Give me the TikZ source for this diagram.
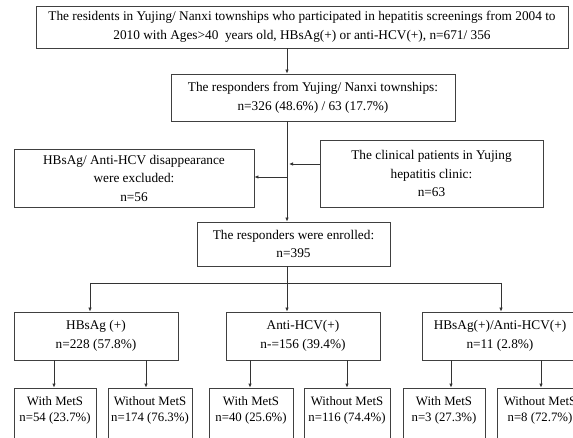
\documentclass[tikz,border=0pt]{standalone}
\usepackage{fontspec}
\setmainfont{Liberation Serif}
\usetikzlibrary{arrows.meta}
\begin{document}
\begin{tikzpicture}[x=1pt,y=-1pt,
  box/.style={draw=black!75, line width=0.8pt, rectangle, align=center, inner sep=0pt,
     font=\fontsize{13.3}{18.5}\selectfont},
  smallbox/.style={box, font=\fontsize{12.8}{16}\selectfont},
  arr/.style={draw=black!80, line width=0.8pt, -{Latex[length=4pt,width=3.5pt]}},
  ln/.style={draw=black!80, line width=0.8pt}]
\useasboundingbox (0,0) rectangle (573,438);
\clip (0,0) rectangle (573,438);
\fill[white] (0,0) rectangle (573,438);

\node[box, minimum width=532, minimum height=42] (top) at (302,27)
  {The residents in Yujing/ Nanxi townships who participated in hepatitis screenings from 2004 to\\
   2010 with Ages>40 \ years old, HBsAg(+) or anti-HCV(+), n=671/ 356};
\node[box, minimum width=284, minimum height=47] (resp) at (313,97.5)
  {The responders from Yujing/ Nanxi townships:\\ n=326 (48.6\%) / 63 (17.7\%)};
\node[box, minimum width=240, minimum height=58] (excl) at (134,178)
  {HBsAg/ Anti-HCV disappearance\\ were excluded:\\ n=56};
\node[box, minimum width=223, minimum height=67] (clin) at (431.5,173.5)
  {The clinical patients in Yujing\\ hepatitis clinic:\\ n=63};
\node[box, minimum width=193, minimum height=44] (enr) at (293.5,244)
  {The responders were enrolled:\\ n=395};

\node[box, minimum width=164, minimum height=48] (hb) at (96,336)
  {HBsAg (+)\\ n=228 (57.8\%)};
\node[box, minimum width=154, minimum height=48] (hc) at (303,336)
  {Anti-HCV(+)\\ n-=156 (39.4\%)};
\node[box, minimum width=156, minimum height=48] (co) at (500,336)
  {HBsAg(+)/Anti-HCV(+)\\ n=11 (2.8\%)};

\node[smallbox, minimum width=82, minimum height=58] (r1) at (55,417)
  {With MetS\\ n=54 (23.7\%)\\ \mbox{}};
\node[smallbox, minimum width=84, minimum height=58] (r2) at (150,417)
  {Without MetS\\ n=174 (76.3\%)\\ \mbox{}};
\node[smallbox, minimum width=84, minimum height=58] (r3) at (251,417)
  {With MetS\\ n=40 (25.6\%)\\ \mbox{}};
\node[smallbox, minimum width=86, minimum height=58] (r4) at (347,417)
  {Without MetS\\ n=116 (74.4\%)\\ \mbox{}};
\node[smallbox, minimum width=82, minimum height=58] (r5) at (444,417)
  {With MetS\\ n=3 (27.3\%)\\ \mbox{}};
\node[smallbox, minimum width=85, minimum height=58] (r6) at (540,417)
  {Without MetS\\ n=8 (72.7\%)\\ \mbox{}};

\coordinate (spine) at (287,0);
\coordinate (jc) at (289,164);
\coordinate (jx) at (287,177);
\coordinate (split) at (287,283);
\coordinate (lx) at (90,283);
\coordinate (rx) at (501,283);

\draw[arr] (spine |- top.south) -- (spine |- resp.north);
\draw[arr] (spine |- resp.south) -- (spine |- enr.north);
\draw[arr] (clin.west |- jc) -- (jc);
\draw[arr] (jx) -- (excl.east |- jx);
\draw[ln] (spine |- enr.south) -- (split);
\draw[ln] (lx) -- (rx);
\draw[arr] (lx) -- (lx |- hb.north);
\draw[arr] (split) -- (split |- hc.north);
\draw[arr] (rx) -- (rx |- co.north);

\draw[arr] ([xshift=-1pt]r1.north |- hb.south) -- ([xshift=-1pt]r1.north);
\draw[arr] ([xshift=-4pt]r2.north |- hb.south) -- ([xshift=-4pt]r2.north);
\draw[arr] ([xshift=-1pt]r3.north |- hc.south) -- ([xshift=-1pt]r3.north);
\draw[arr] (r4.north |- hc.south) -- (r4.north);
\draw[arr] ([xshift=7pt]r5.north |- co.south) -- ([xshift=7pt]r5.north);
\draw[arr] ([xshift=1pt]r6.north |- co.south) -- ([xshift=1pt]r6.north);
\end{tikzpicture}
\end{document}
